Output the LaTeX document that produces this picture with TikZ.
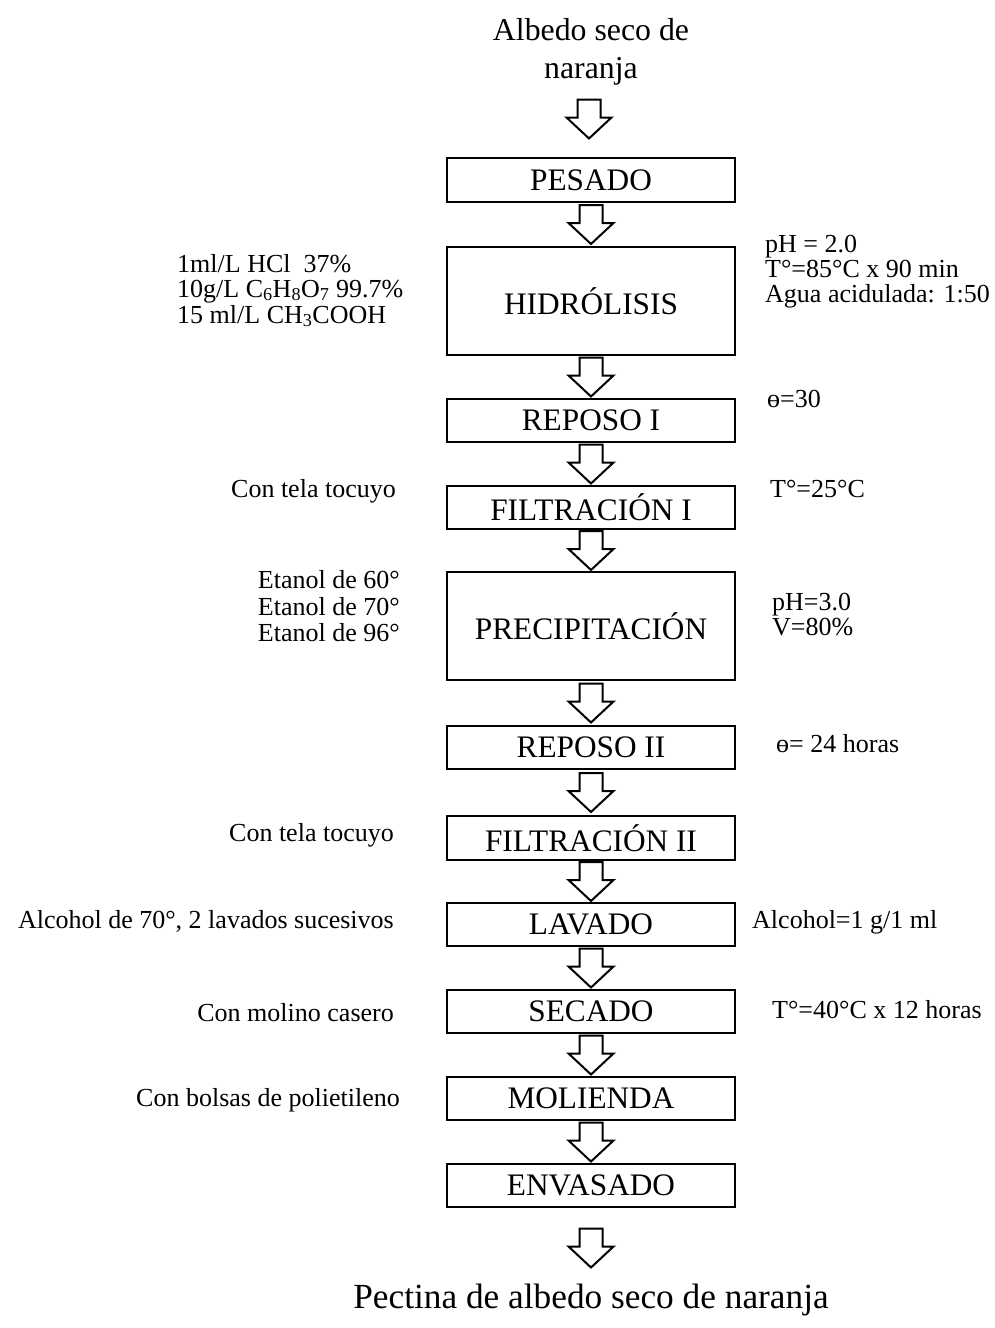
\documentclass[tikz,border=0pt]{standalone}
\usepackage{fontspec}
\setmainfont{Liberation Serif}
\usetikzlibrary{calc}
\tikzset{
  procbox/.style={draw, line width=2pt, minimum width=288pt, inner sep=0pt, font=\fontsize{31.3}{33}\selectfont},
  side/.style={inner sep=0pt, font=\fontsize{26}{28}\selectfont},
  title/.style={inner sep=0pt, font=\fontsize{31.8}{33}\selectfont},
  arrline/.style={draw, line width=2pt, line join=miter, fill=white},
  blockarr/.pic={\path[arrline] (-11.5,-19.5) -- (11.5,-19.5) -- (11.5,-1.5) -- (22.5,-1.5) -- (0,19.5) -- (-22.5,-1.5) -- (-11.5,-1.5) -- cycle;}
}
\begin{document}
\begin{tikzpicture}[x=1pt,y=-1pt]
\useasboundingbox (0,0) rectangle (994,1328);
% title
\node[title, anchor=base] (t1) at (591,40) {Albedo seco de};
\node[title, anchor=base] (t2) at (591,78) {naranja};
% boxes
\node[procbox, minimum height=44pt] (pes) at (591,180) {PESADO};
\node[procbox, minimum height=108pt] (hid) at (591,301) {HIDRÓLISIS};
\node[procbox, minimum height=43pt] (rep1) at (591,420.5) {REPOSO I};
\node[procbox, minimum height=43pt] (fil1) at (591,507.5) {FILTRACIÓN I};
\node[procbox, minimum height=108pt] (pre) at (591,626) {PRECIPITACIÓN};
\node[procbox, minimum height=43pt] (rep2) at (591,747.5) {REPOSO II};
\node[procbox, minimum height=44pt] (fil2) at (591,838) {FILTRACIÓN II};
\node[procbox, minimum height=43pt] (lav) at (591,924.5) {LAVADO};
\node[procbox, minimum height=43pt] (sec) at (591,1011.5) {SECADO};
\node[procbox, minimum height=43pt] (mol) at (591,1098.5) {MOLIENDA};
\node[procbox, minimum height=43pt] (env) at (591,1185.5) {ENVASADO};
% bottom
\node[inner sep=0pt, font=\fontsize{35.3}{37}\selectfont, anchor=base] (fin) at (591,1308) {Pectina de albedo seco de naranja};
% arrows
\pic at ($(pes.north)+(-2,-38)$) {blockarr};
\pic at ($(pes.south)!0.5!(hid.north)$) {blockarr};
\pic at ($(hid.south)!0.5!(rep1.north)$) {blockarr};
\pic at ($(rep1.south)!0.5!(fil1.north)$) {blockarr};
\pic at ($(fil1.south)!0.5!(pre.north)$) {blockarr};
\pic at ($(pre.south)!0.5!(rep2.north)$) {blockarr};
\pic at ($(rep2.south)!0.5!(fil2.north)$) {blockarr};
\pic at ($(fil2.south)!0.5!(lav.north)$) {blockarr};
\pic at ($(lav.south)!0.5!(sec.north)$) {blockarr};
\pic at ($(sec.south)!0.5!(mol.north)$) {blockarr};
\pic at ($(mol.south)!0.5!(env.north)$) {blockarr};
\pic at ($(env.south)+(0,40)$) {blockarr};
% left notes
\node[side, anchor=base west] (h1) at (177,272) {1ml/L HCl\ \ 37\%};
\node[side, anchor=base west] (h2) at (177,297) {10g/L C\textsubscript{6}H\textsubscript{8}O\textsubscript{7} 99.7\%};
\node[side, anchor=base west] (h3) at (177,323) {15 ml/L CH\textsubscript{3}COOH};
\node[side, anchor=base east] (f1) at (396,497) {Con tela tocuyo};
\node[side, anchor=base east] (e1) at (400,588) {Etanol de 60°};
\node[side, anchor=base east] (e2) at (400,615) {Etanol de 70°};
\node[side, anchor=base east] (e3) at (400,641) {Etanol de 96°};
\node[side, anchor=base east] (f2) at (394,841) {Con tela tocuyo};
\node[side, anchor=base east] (l1) at (394,928) {Alcohol de 70°, 2 lavados sucesivos};
\node[side, anchor=base east] (m1) at (394,1021) {Con molino casero};
\node[side, anchor=base east] (b1) at (400,1106) {Con bolsas de polietileno};
% right notes
\node[side, anchor=base west] (r1) at (765,252) {pH = 2.0};
\node[side, anchor=base west] (r2) at (765,277) {T°=85°C x 90 min};
\node[side, anchor=base west] (r3) at (765,302) {Agua acidulada: 1:50};
\node[side, anchor=base west] (r4) at (767,407) {ɵ=30};
\node[side, anchor=base west] (r5) at (770,497) {T°=25°C};
\node[side, anchor=base west] (r6) at (772,610) {pH=3.0};
\node[side, anchor=base west] (r7) at (772,635) {V=80\%};
\node[side, anchor=base west] (r8) at (776,752) {ɵ= 24 horas};
\node[side, anchor=base west] (r9) at (752,928) {Alcohol=1 g/1 ml};
\node[side, anchor=base west] (r10) at (772,1018) {T°=40°C x 12 horas};
\end{tikzpicture}
\end{document}
